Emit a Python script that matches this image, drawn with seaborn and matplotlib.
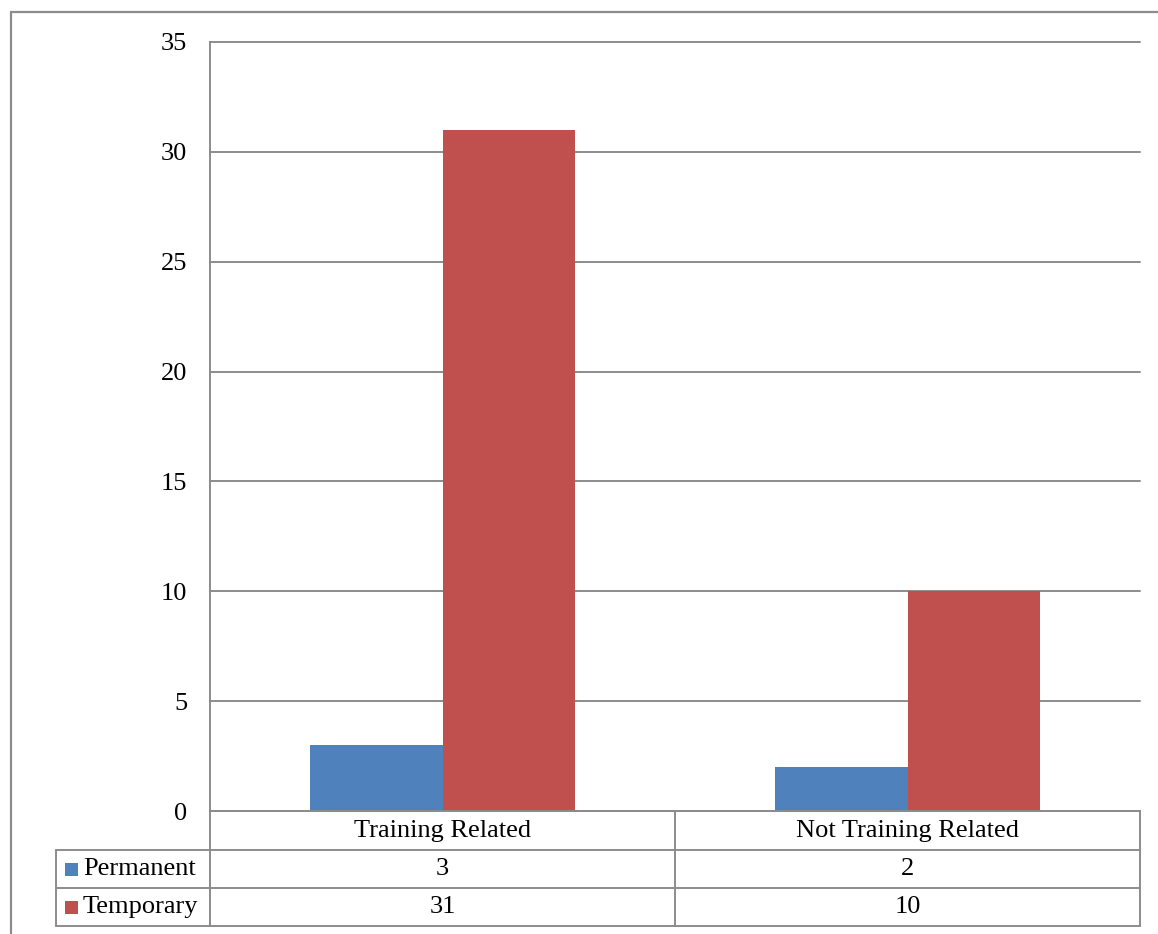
import matplotlib
matplotlib.use("Agg")
import matplotlib.pyplot as plt
import matplotlib.transforms as mtransforms
from matplotlib.lines import Line2D
from matplotlib.patches import Rectangle
import pandas as pd
import seaborn as sns

# Data
categories = ["Training Related", "Not Training Related"]
series = ["Permanent", "Temporary"]
permanent = [3, 2]
temporary = [31, 10]
colors = ["#4F81BD", "#C0504D"]
y_ticks = [0, 5, 10, 15, 20, 25, 30, 35]

df = pd.DataFrame({
    "category": categories * 2,
    "series": [series[0]] * 2 + [series[1]] * 2,
    "value": permanent + temporary,
})

sns.set_theme(style="white")
plt.rcParams["font.family"] = ["Liberation Serif", "DejaVu Serif"]

W, H = 1158, 934
fig = plt.figure(figsize=(W / 100, H / 100), dpi=100)
fig.patch.set_facecolor("white")

def fx(px):
    return px / W

def fy(py):
    return 1 - py / H

grid_col = "#8C8C8C"
lw = 1.4
fs = 19

# Plot area
ax_l, ax_t, ax_r, ax_b = 210, 42, 1140, 811
ax = fig.add_axes([fx(ax_l), fy(ax_b), fx(ax_r - ax_l), (ax_b - ax_t) / H])

sns.barplot(data=df, x="category", y="value", hue="series", order=categories,
            hue_order=series, palette=colors, saturation=1, width=0.572,
            dodge=True, linewidth=0, ax=ax, legend=False)

ax.set_xlim(-0.5, 1.5)
ax.set_ylim(0, 35)
ax.set_yticks(y_ticks)
ax.set_yticklabels([str(t) for t in y_ticks], fontsize=fs, color="black")
ax.set_xticks([])
ax.set_xlabel("")
ax.set_ylabel("")
ax.tick_params(axis="y", length=0, pad=16.5)
ax.yaxis.grid(True, color=grid_col, linewidth=lw)
ax.set_axisbelow(True)
for gl in ax.get_ygridlines():
    gl.set_clip_on(False)
for side in ["top", "right", "bottom"]:
    ax.spines[side].set_visible(False)
ax.spines["left"].set_color(grid_col)
ax.spines["left"].set_linewidth(lw)
ax.set_facecolor("white")

# Outer chart frame
fig.add_artist(Rectangle((fx(11), fy(H + 20)), fx(W + 40), (H + 20 - 12) / H,
                         transform=fig.transFigure, fill=False,
                         edgecolor="#8C8C8C", linewidth=1.6))

def hline(x0, x1, y):
    fig.add_artist(Line2D([fx(x0), fx(x1)], [fy(y), fy(y)],
                          transform=fig.transFigure, color=grid_col, linewidth=lw))

def vline(x, y0, y1):
    fig.add_artist(Line2D([fx(x), fx(x)], [fy(y0), fy(y1)],
                          transform=fig.transFigure, color=grid_col, linewidth=lw))

# Data table grid
row_edges = [811, 850, 888, 926]
tab_l = 56
hline(ax_l, ax_r, row_edges[0])
for y in row_edges[1:]:
    hline(tab_l, ax_r, y)
vline(tab_l, row_edges[1], row_edges[3])
vline(ax_l, row_edges[0], row_edges[3])
vline(675, row_edges[0], row_edges[3])
vline(ax_r, row_edges[0], row_edges[3])

# Table text: x in data units, y in figure units
blend = mtransforms.blended_transform_factory(ax.transData, fig.transFigure)
row_centers = [(row_edges[i] + row_edges[i + 1]) / 2 for i in range(3)]
for i, cat in enumerate(categories):
    fig.text(i, fy(row_centers[0]), cat, transform=blend, ha="center",
             va="center", fontsize=fs, color="black")
    fig.text(i, fy(row_centers[1]), str(permanent[i]), transform=blend,
             ha="center", va="center", fontsize=fs, color="black")
    fig.text(i, fy(row_centers[2]), str(temporary[i]), transform=blend,
             ha="center", va="center", fontsize=fs, color="black")

# Legend keys and series names in the table
for name, col, yc in zip(series, colors, row_centers[1:]):
    fig.add_artist(Rectangle((fx(65), fy(yc + 7)), fx(13), 13 / H,
                             transform=fig.transFigure, facecolor=col,
                             edgecolor="none"))
    fig.text(fx(83), fy(yc), name, ha="left", va="center", fontsize=fs,
             color="black")

fig.savefig("out.png", dpi=100, facecolor="white")
